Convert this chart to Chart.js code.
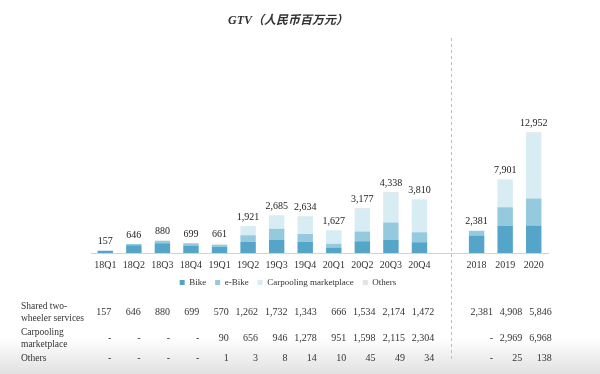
<!DOCTYPE html>
<html>
<head>
<meta charset="utf-8">
<script src="https://cdn.jsdelivr.net/npm/chart.js@4"></script>
<style>
  html, body { margin: 0; padding: 0; background: #fff; }
  #wrap { position: relative; width: 600px; height: 374px; }
</style>
</head>
<body>
<div id="wrap"><canvas id="gtvChart"></canvas></div>
<script>
// categories: 12 quarters, an empty slot for the divider, then 3 years
const quarterLabels = ['18Q1', '18Q2', '18Q3', '18Q4', '19Q1', '19Q2', '19Q3', '19Q4', '20Q1', '20Q2', '20Q3', '20Q4'];
const yearLabels = ['2018', '2019', '2020'];

// bar segments (RMB mn), bike / e-bike split
const bikeQ = [157, 560, 700, 540, 450, 790, 940, 780, 400, 840, 950, 770];
const eBikeQ = [0, 86, 180, 159, 120, 472, 792, 563, 266, 694, 1224, 702];
const carpoolQ = [0, 0, 0, 0, 90, 656, 946, 1278, 951, 1598, 2115, 2304];
const othersQ = [0, 0, 0, 0, 1, 3, 8, 14, 10, 45, 49, 34];
const totalsQ = [157, 646, 880, 699, 661, 1921, 2685, 2634, 1627, 3177, 4338, 3810];

const bikeY = [1880, 2930, 2950];
const eBikeY = [501, 1978, 2896];
const carpoolY = [0, 2969, 6968];
const othersY = [0, 25, 138];
const totalsY = [2381, 7901, 12952];

// table rows under the chart
const sharedRow = ['157', '646', '880', '699', '570', '1,262', '1,732', '1,343', '666', '1,534', '2,174', '1,472', '', '2,381', '4,908', '5,846'];
const carpoolRow = ['-', '-', '-', '-', '90', '656', '946', '1,278', '951', '1,598', '2,115', '2,304', '', '-', '2,969', '6,968'];
const othersRow = ['-', '-', '-', '-', '1', '3', '8', '14', '10', '45', '49', '34', '', '-', '25', '138'];

const seriesNames = ['Bike', 'e-Bike', 'Carpooling marketplace', 'Others'];
const seriesColors = ['#55a5c9', '#95cade', '#d8ecf4', '#e2e2e2'];

const labels = [...quarterLabels, '', ...yearLabels];
const SERIF = "'Liberation Serif', 'DejaVu Serif', serif";

function quarterData(arr) { return [...arr, null, null, null, null]; }
function yearData(arr) { return [...Array(13).fill(null), ...arr]; }

const qSeries = [bikeQ, eBikeQ, carpoolQ, othersQ];
const ySeries = [bikeY, eBikeY, carpoolY, othersY];

const datasets = [];
qSeries.forEach((arr, i) => {
    datasets.push({ label: seriesNames[i], data: quarterData(arr), backgroundColor: seriesColors[i], yAxisID: 'yq', stack: 'g' });
});
ySeries.forEach((arr, i) => {
    datasets.push({ label: seriesNames[i], data: yearData(arr), backgroundColor: seriesColors[i], yAxisID: 'ya', stack: 'g' });
});

// white page with the grey fade at the bottom
const backdrop = {
    id: 'backdrop',
    beforeDraw(chart) {
        const { ctx, width, height } = chart;
        ctx.save();
        ctx.fillStyle = '#fff';
        ctx.fillRect(0, 0, width, height);
        const g = ctx.createLinearGradient(0, 338, 0, height);
        g.addColorStop(0, 'rgba(225,225,225,0)');
        g.addColorStop(1, 'rgba(225,225,225,1)');
        ctx.fillStyle = g;
        ctx.fillRect(0, 338, width, height - 338);
        ctx.restore();
    }
};

// totals over bars, divider and the table
const extras = {
    id: 'extras',
    afterDraw(chart) {
        const { ctx } = chart;
        const x = chart.scales.x;
        const yq = chart.scales.yq;
        const ya = chart.scales.ya;
        ctx.save();
        ctx.font = '10px ' + SERIF;
        ctx.fillStyle = '#222';
        ctx.textAlign = 'center';
        ctx.textBaseline = 'bottom';
        totalsQ.forEach((t, i) => {
            ctx.fillText(t.toLocaleString('en-US'), x.getPixelForValue(i), yq.getPixelForValue(t) - 4);
        });
        totalsY.forEach((t, i) => {
            ctx.fillText(t.toLocaleString('en-US'), x.getPixelForValue(13 + i), ya.getPixelForValue(t) - 4);
        });

        // dashed divider
        const dx = Math.round(x.getPixelForValue(12)) + 3.5;
        ctx.strokeStyle = '#bdbdbd';
        ctx.lineWidth = 1;
        ctx.setLineDash([3, 3]);
        ctx.beginPath();
        ctx.moveTo(dx, 38);
        ctx.lineTo(dx, 362);
        ctx.stroke();
        ctx.setLineDash([]);

        // table
        ctx.fillStyle = '#333';
        ctx.textBaseline = 'middle';
        ctx.textAlign = 'left';
        ctx.font = '9.5px ' + SERIF;
        ctx.fillText('Shared two-', 21, 306);
        ctx.fillText('wheeler services', 21, 318);
        ctx.fillText('Carpooling', 21, 332);
        ctx.fillText('marketplace', 21, 344);
        ctx.fillText('Others', 21, 358);

        ctx.font = '10px ' + SERIF;
        ctx.textAlign = 'right';
        const x0 = x.getPixelForValue(0);
        const colRight = (i) => x0 + 6 + (x.getPixelForValue(i) - x0) * 1.028;
        const rows = [[sharedRow, 312], [carpoolRow, 338], [othersRow, 358]];
        rows.forEach(([row, y]) => {
            row.forEach((txt, i) => {
                if (txt) ctx.fillText(txt, colRight(i), y);
            });
        });
        ctx.restore();
    }
};

new Chart(document.getElementById('gtvChart'), {
    type: 'bar',
    data: { labels: labels, datasets: datasets },
    options: {
        responsive: true,
        maintainAspectRatio: false,
        animation: false,
        layout: { padding: { left: 0, right: 24, top: 0, bottom: 77 } },
        datasets: {
            bar: { barPercentage: 0.54, categoryPercentage: 1, borderWidth: 0 }
        },
        scales: {
            x: {
                stacked: true,
                grid: { display: false, drawTicks: false },
                border: { color: '#d2d2d2' },
                ticks: { font: { family: SERIF, size: 10 }, color: '#333', padding: 6, autoSkip: false, maxRotation: 0 },
                afterFit: (s) => { s.height = 16; }
            },
            yq: {
                position: 'left',
                stacked: true,
                min: 0,
                max: 14700,
                grid: { display: false, drawTicks: false },
                border: { display: false },
                ticks: { display: false },
                afterFit: (s) => { s.width = 91; }
            },
            ya: {
                position: 'right',
                stacked: true,
                min: 0,
                max: 22150,
                grid: { display: false, drawTicks: false },
                border: { display: false },
                ticks: { display: false },
                afterFit: (s) => { s.width = 28; }
            }
        },
        plugins: {
            title: {
                display: true,
                text: 'GTV（人民币百万元）',
                color: '#333',
                font: { family: "'Liberation Serif', 'Noto Sans CJK SC', serif", size: 12, weight: 'bold', style: 'italic' },
                padding: { top: 14, bottom: 18 }
            },
            legend: {
                position: 'bottom',
                labels: {
                    boxWidth: 5,
                    boxHeight: 5,
                    padding: 9,
                    color: '#333',
                    font: { family: SERIF, size: 9 },
                    filter: (item) => item.datasetIndex < 4
                }
            },
            tooltip: { enabled: false }
        }
    },
    plugins: [backdrop, extras]
});
</script>
</body>
</html>
